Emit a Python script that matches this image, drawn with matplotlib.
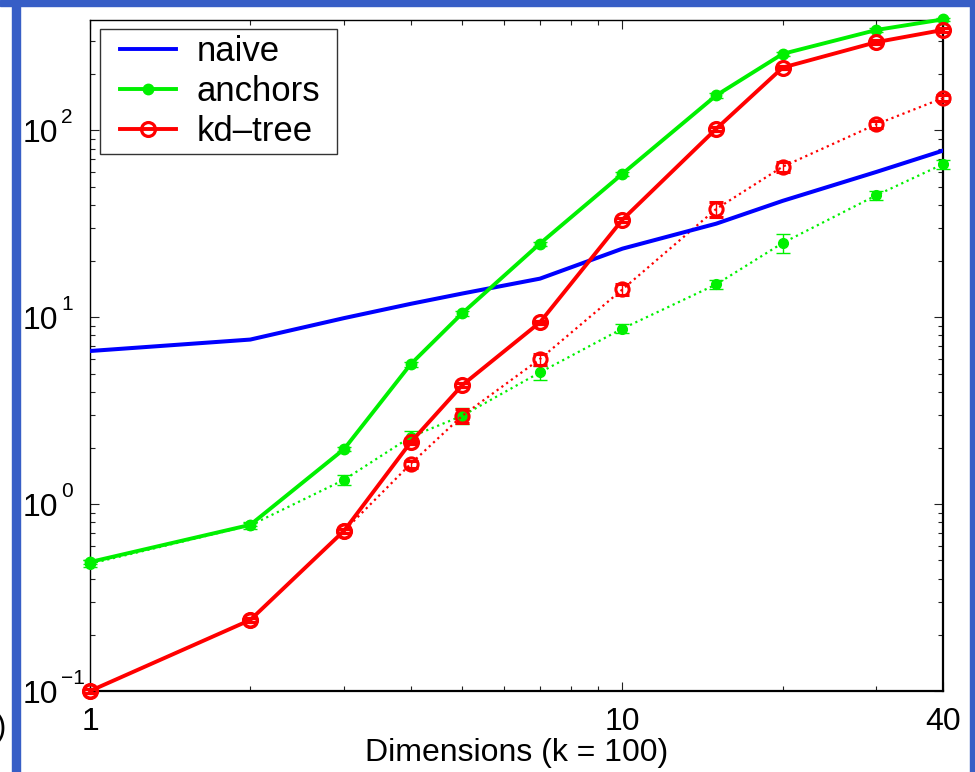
import numpy as np
import matplotlib
matplotlib.use('Agg')
import matplotlib.pyplot as plt
from matplotlib.patches import Rectangle
from matplotlib.lines import Line2D
from matplotlib.legend_handler import HandlerLine2D
from matplotlib.ticker import FixedLocator, LogLocator, NullFormatter

plt.rcParams['font.family'] = ['Liberation Sans', 'DejaVu Sans']

dims = [1, 2, 3, 4, 5, 7, 10, 15, 20, 30, 40]
naive = [6.6, 7.6, 9.9, 11.8, 13.4, 16.1, 23.3, 31.7, 42, 60, 78]
anchors = [0.49, 0.775, 1.97, 5.6, 10.5, 24.8, 58.6, 154, 257, 345, 393]
anchors_err = [0.01, 0.015, 0.05, 0.15, 0.3, 0.6, 1.5, 4, 6, 8, 8]
kdtree = [0.1, 0.24, 0.72, 2.14, 4.33, 9.4, 33.3, 102, 217, 297, 345]
kdtree_err = [0.002, 0.005, 0.015, 0.05, 0.1, 0.2, 0.8, 2.5, 5, 7, 8]
anchors_dot = [0.48, 0.77, 1.35, 2.29, 2.97, 5.07, 8.7, 15.0, 25, 45, 66]
anchors_dot_err = [0.02, 0.03, 0.09, 0.17, 0.3, 0.45, 0.5, 0.8, 2.8, 2.5, 3.5]
kdtree_dot = [0.1, 0.24, 0.72, 1.64, 2.97, 5.98, 14.1, 38, 64, 108, 149]
kdtree_dot_err = [0.003, 0.006, 0.02, 0.07, 0.25, 0.4, 0.9, 3.5, 4, 5, 6]

x_ticks = [1, 10, 40]
x_ticklabels = ['1', '10', '40']
y_ticks = [0.1, 1, 10, 100]
y_exponents = ['\u22121', '0', '1', '2']
legend_labels = ['naive', 'anchors', 'kd\u2013tree']
xlabel = 'Dimensions (k = 100)'

BLUE_BG = '#375ec6'
BLUE = '#0000ff'
GREEN = '#00f000'
RED = '#ff0000'

W, H = 975, 772
fig = plt.figure(figsize=(W / 100, H / 100), dpi=100)
fig.patch.set_facecolor('white')
# slide frame
fig.patches.append(Rectangle((0, 1 - 6 / H), 1, 6 / H, transform=fig.transFigure,
                             color=BLUE_BG, zorder=0))
fig.patches.append(Rectangle((12 / W, 0), 8 / W, 1 - 6 / H, transform=fig.transFigure,
                             color=BLUE_BG, zorder=0))
fig.patches.append(Rectangle((970 / W, 0), 5 / W, 1, transform=fig.transFigure,
                             color=BLUE_BG, zorder=0))

L, R, T, B = 90, 943, 20, 691
ax = fig.add_axes([L / W, 1 - B / H, (R - L) / W, (B - T) / H])
ax.set_xscale('log')
ax.set_yscale('log')
ax.set_xlim(1, 40)
ax.set_ylim(0.1, 390)


def eb(y, yerr, color, ls, lw, mfc, ms, mew, z):
    c = ax.errorbar(dims, y, yerr=yerr, color=color, ls=ls, lw=lw, marker='o',
                    ms=ms, mfc=mfc, mec=color, mew=mew, capsize=5,
                    elinewidth=1, capthick=1, zorder=z)
    for art in c.get_children():
        art.set_clip_on(False)
    return c


eb(anchors_dot, anchors_dot_err, GREEN, ':', 1.6, GREEN, 7, 1, 3)
eb(kdtree_dot, kdtree_dot_err, RED, ':', 1.6, 'none', 9.5, 2.2, 3)
ax.plot(dims, naive, color=BLUE, lw=2.9, zorder=4)
eb(anchors, anchors_err, GREEN, '-', 2.8, GREEN, 7.5, 1, 5)
eb(kdtree, kdtree_err, RED, '-', 2.8, 'none', 10, 2.3, 6)

# ticks
ax.xaxis.set_major_locator(FixedLocator(x_ticks))
ax.xaxis.set_minor_locator(LogLocator(base=10, subs=np.arange(2, 10)))
ax.xaxis.set_minor_formatter(NullFormatter())
ax.set_xticklabels(x_ticklabels)
ax.yaxis.set_major_locator(FixedLocator(y_ticks))
ax.yaxis.set_minor_locator(LogLocator(base=10, subs=np.arange(2, 10)))
ax.yaxis.set_minor_formatter(NullFormatter())
ax.set_yticklabels([''] * len(y_ticks))
ax.tick_params(which='both', direction='in', top=True, right=True, width=0.8,
               color='#222222')
ax.tick_params(which='major', length=6.5)
ax.tick_params(which='minor', length=3.6)
ax.tick_params(axis='x', which='major', labelsize=23, pad=11.5)
for s in ax.spines.values():
    s.set_linewidth(1.0)
    s.set_color('black')
ax.spines['bottom'].set_linewidth(1.6)
ax.spines['right'].set_linewidth(1.6)

# y tick labels as 10 with superscript exponent, base right-aligned
for yt, ex in zip(y_ticks, y_exponents):
    ax.annotate('10', xy=(0, yt), xycoords=('axes fraction', 'data'),
                xytext=(-32, -12), textcoords='offset pixels',
                ha='right', va='baseline', fontsize=23, annotation_clip=False)
    ax.annotate(ex, xy=(0, yt), xycoords=('axes fraction', 'data'),
                xytext=(-29, 7), textcoords='offset pixels',
                ha='left', va='baseline', fontsize=15, annotation_clip=False)

ax.set_xlabel(xlabel, fontsize=23, labelpad=1)

handles = [
    Line2D([], [], color=BLUE, lw=2.8),
    Line2D([], [], color=GREEN, lw=2.8, marker='o', ms=7.5, mfc=GREEN, mec=GREEN),
    Line2D([], [], color=RED, lw=2.8, marker='o', ms=10, mfc='none', mec=RED, mew=2.3),
]
LFS = 25
em = LFS * 100 / 72.0
x0 = (100 - L) / (R - L)
ytop = 1 - (29 - T) / (B - T)
wfrac = 237 / (R - L)
leg = ax.legend(handles, legend_labels, loc='upper left', fontsize=LFS,
                frameon=True, fancybox=False, edgecolor='black',
                bbox_to_anchor=(x0, ytop - 0.2, wfrac, 0.2), mode='expand',
                borderaxespad=0.0, handlelength=(56 + 14) / em,
                handletextpad=0.6, labelspacing=0.2, borderpad=0.17,
                handler_map={Line2D: HandlerLine2D(xpad=14 / em)})
leg.get_frame().set_linewidth(1.0)
leg.set_zorder(10)

fig.text(6 / W, 1 - 728 / H, ')', fontsize=22, ha='right', va='center')

fig.savefig('out.png', dpi=100, facecolor=fig.get_facecolor())
